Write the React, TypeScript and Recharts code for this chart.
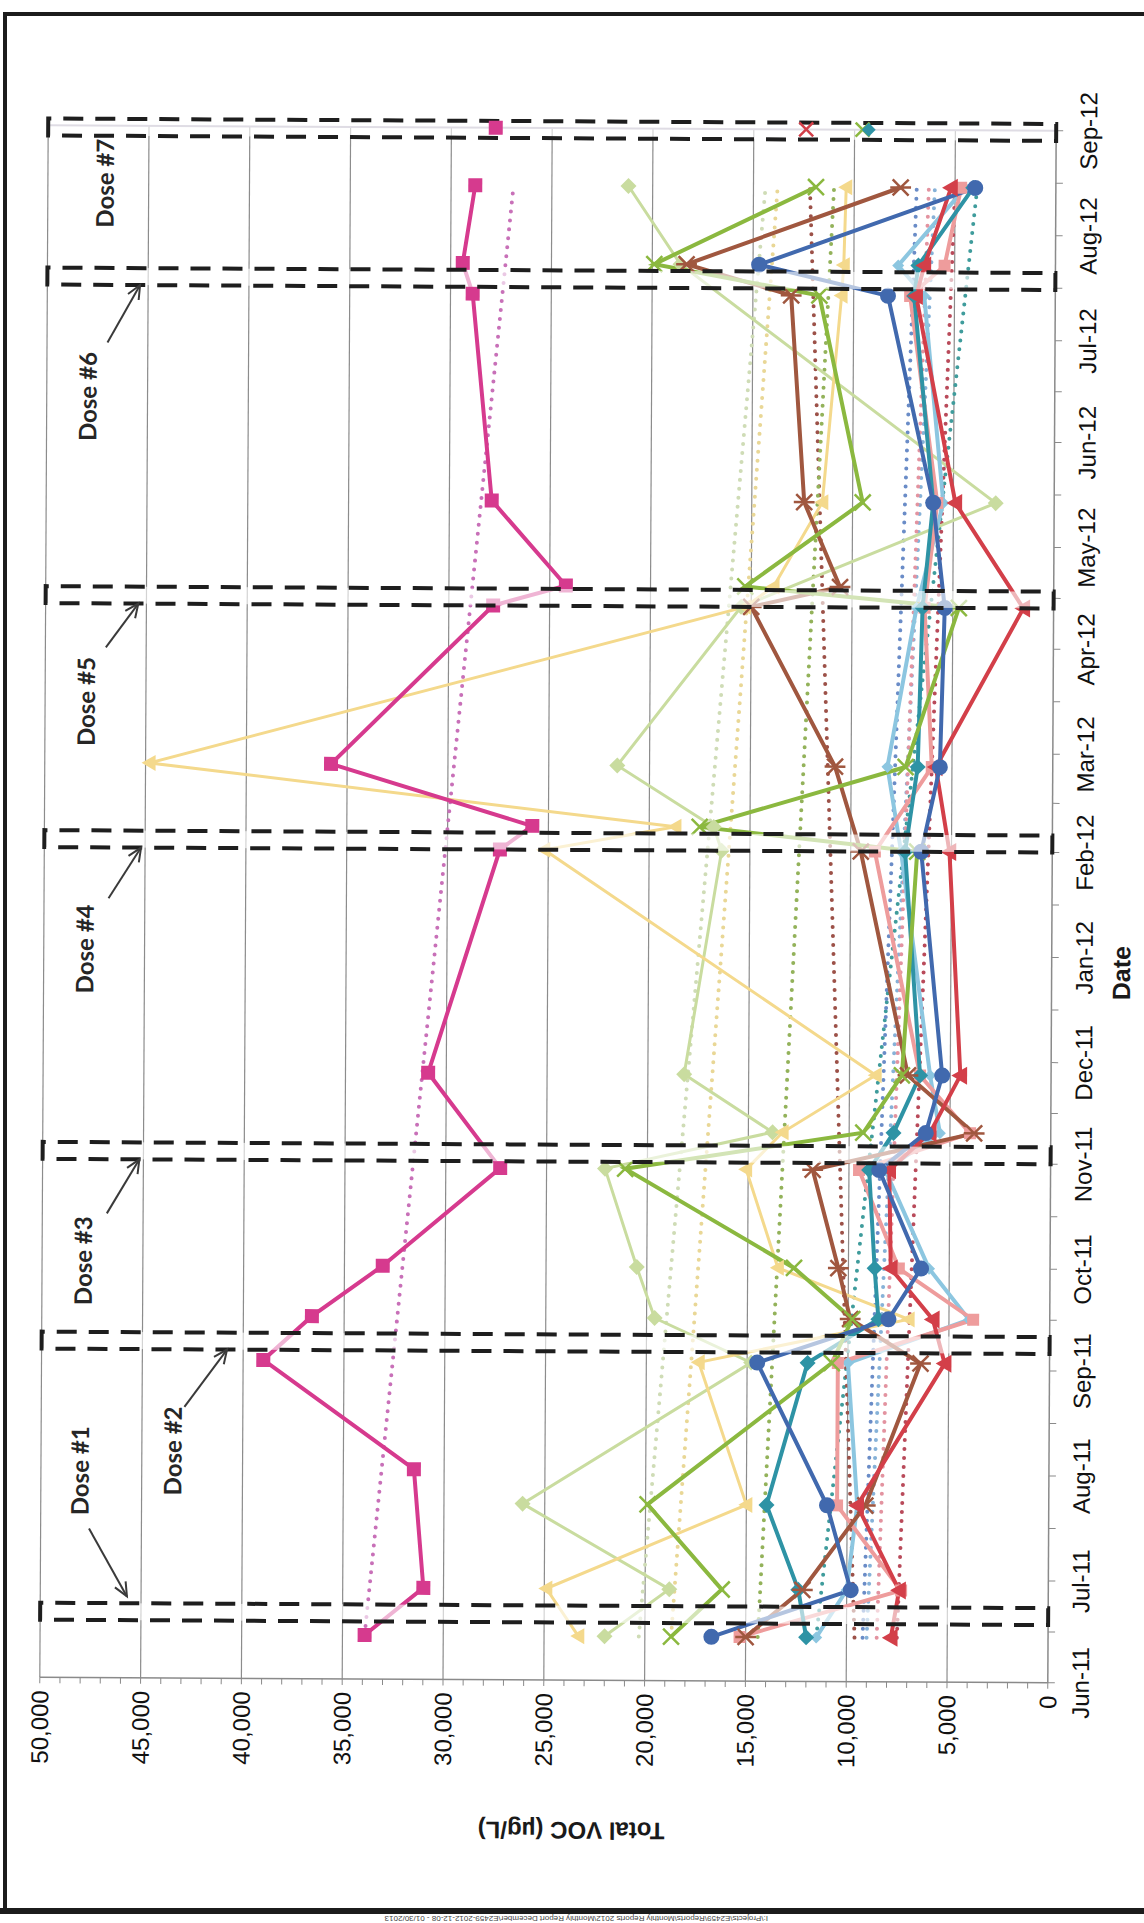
import React from "react";
import {
  LineChart,
  Line,
  XAxis,
  YAxis,
  ReferenceLine,
  ReferenceArea,
  ReferenceDot,
} from "recharts";

// sampling events
const sampleDates = [
  "2011-06-14", "2011-06-28", "2011-07-23", "2011-08-02", "2011-09-03",
  "2011-09-16", "2011-10-01", "2011-10-30", "2011-11-10", "2011-11-27",
  "2012-02-01", "2012-02-08", "2012-02-26", "2012-04-13", "2012-04-19",
  "2012-05-14", "2012-07-14", "2012-07-23", "2012-08-15",
];

// Total VOC (ug/L) per well, null = not sampled
const magenta = [33900, 31000, null, 31500, 39000, 36600, 33100, 27300, null, 30900, 27400, 25800, 35800, 27800, 24200, 27900, 28900, 29400, 28800];
const blue = [16700, 9800, 11000, null, 14500, 8000, 6400, 8500, 6200, 5400, 6500, null, 5600, 5400, null, 6000, 8300, 14700, 4000];
const red = [7800, 7400, 9500, null, 5200, 5800, 7900, 8000, 6000, 4500, 5100, null, 5800, 1500, null, 4900, 6900, 6500, 5200];
const green = [18700, 16200, 19900, null, 10800, 9800, 12700, 21100, 9300, 7400, 6700, 17500, 7300, 4700, 15300, 9500, 11700, 19900, 11900];
const brown = [15000, 12200, 9100, null, 6400, 9900, 10500, 11800, 3800, 7100, 9500, null, 10800, 15000, 10600, 12400, 13100, 18300, 7700];
const teal = [12000, 12400, 14000, null, 12000, 8500, 8700, 9000, 7800, 6500, 7300, null, 6700, 6500, null, 6000, 7000, 6800, 4100];
const yellow = [23300, 24900, 15000, null, 17400, 7000, 13500, 15100, 13300, 8700, 25200, 18700, 44800, 15300, 13900, 11500, 10600, 10500, 10400];
const paleGreen = [22000, 18800, 26100, null, 14800, 19600, 20500, 22100, 13800, 18200, 16400, 16800, 21600, 15500, null, 2900, null, 18600, 21200];
const lightBlue = [11500, 10000, 9500, null, 10000, 4000, 6000, 8200, 5500, 6000, 7500, null, 8200, 6800, null, 5500, 6500, 7800, 4500];
const salmon = [15300, 7300, 10500, null, 10500, 3800, 7500, 9500, 4000, 6500, 8800, null, 6000, 6400, null, 5800, 7200, 5500, 4700];

// linear trendlines (first -> last sampling date)
const trendSpan = ["2011-06-14", "2012-08-15"];
const magentaTrend = [33900, 26900];
const blueTrend = [9200, 6900];
const redTrend = [7500, 5000];
const greenTrend = [14400, 11000];
const brownTrend = [9600, 12200];
const tealTrend = [11500, 3900];
const yellowTrend = [18700, 13800];
const paleGreenTrend = [20300, 14400];
const lightBlueTrend = [9000, 6000];
const salmonTrend = [8500, 6300];

// lone points sitting on the Sep-12 border
const strayDate = "2012-09-01";
const strayMagenta = 27800;
const strayRed = 12400;
const strayGreen = 9600;
const strayTeal = 9300;

const monthStarts = [
  "2011-06-01", "2011-07-01", "2011-08-01", "2011-09-01", "2011-10-01", "2011-11-01",
  "2011-12-01", "2012-01-01", "2012-02-01", "2012-03-01", "2012-04-01", "2012-05-01",
  "2012-06-01", "2012-07-01", "2012-08-01", "2012-09-01",
];
const monthLabels = [
  "Jun-11", "Jul-11", "Aug-11", "Sep-11", "Oct-11", "Nov-11", "Dec-11", "Jan-12",
  "Feb-12", "Mar-12", "Apr-12", "May-12", "Jun-12", "Jul-12", "Aug-12", "Sep-12",
];
const gridValues = [5000, 10000, 15000, 20000, 25000, 30000, 35000, 40000, 45000, 50000];

// dosing windows + annotations
const doseNames = ["Dose #1", "Dose #2", "Dose #3", "Dose #4", "Dose #5", "Dose #6", "Dose #7"];
const doseStart = ["2011-06-18", "2011-09-06", "2011-11-01", "2012-02-01", "2012-04-13", "2012-07-16", "2012-08-29"];
const doseEnd = ["2011-06-23", "2011-09-11", "2011-11-06", "2012-02-06", "2012-04-18", "2012-07-21", "2012-09-03"];
const doseLabelDate = ["2011-08-01", "2011-08-07", "2011-10-02", "2012-01-02", "2012-03-15", "2012-06-13", "2012-08-15"];
const doseLabelValue = [48100, 43500, 48000, 48000, 48000, 48000, 47200];
const arrowFromDate = ["2011-07-15", "2011-08-20", "2011-10-16", "2012-01-17", "2012-03-31", "2012-06-29"];
const arrowFromValue = [47600, 42900, 46800, 46800, 47000, 47000];
const arrowToDate = ["2011-06-25", "2011-09-06", "2011-11-01", "2012-02-01", "2012-04-13", "2012-07-16"];
const arrowToValue = [45700, 40800, 45200, 45200, 45400, 45400];

const toTime = (s: string) => {
  const [y, m, d] = s.split("-").map(Number);
  return Date.UTC(y, m - 1, d);
};

type Shape = "square" | "circle" | "triangle" | "diamond" | "x" | "star";

const series: {
  key: string;
  values: (number | null)[];
  color: string;
  width: number;
  shape: Shape;
  size: number;
  trend: number[];
  trendColor: string;
}[] = [
  { key: "paleGreen", values: paleGreen, color: "#c9dc9f", width: 3, shape: "diamond", size: 8, trend: paleGreenTrend, trendColor: "#cfdcb6" },
  { key: "yellow", values: yellow, color: "#f4d98c", width: 3, shape: "triangle", size: 8, trend: yellowTrend, trendColor: "#e9d796" },
  { key: "lightBlue", values: lightBlue, color: "#8cc6e0", width: 4, shape: "diamond", size: 6, trend: lightBlueTrend, trendColor: "#86b2d8" },
  { key: "salmon", values: salmon, color: "#ee9c9c", width: 4, shape: "square", size: 6, trend: salmonTrend, trendColor: "#e393a0" },
  { key: "teal", values: teal, color: "#2e93a5", width: 4, shape: "diamond", size: 8, trend: tealTrend, trendColor: "#3f9c9c" },
  { key: "brown", values: brown, color: "#a0573f", width: 4, shape: "star", size: 8, trend: brownTrend, trendColor: "#9c5148" },
  { key: "green", values: green, color: "#8bb83f", width: 4, shape: "x", size: 8, trend: greenTrend, trendColor: "#93b25a" },
  { key: "red", values: red, color: "#d33f49", width: 4, shape: "triangle", size: 9, trend: redTrend, trendColor: "#b94a5a" },
  { key: "blue", values: blue, color: "#4169ae", width: 4, shape: "circle", size: 8, trend: blueTrend, trendColor: "#6a8cc7" },
  { key: "magenta", values: magenta, color: "#d63a8e", width: 4, shape: "square", size: 7, trend: magentaTrend, trendColor: "#c870b8" },
];

const strays = [
  { key: "sMagenta", value: strayMagenta, color: "#d63a8e", shape: "square" as Shape },
  { key: "sRed", value: strayRed, color: "#d33f49", shape: "x" as Shape },
  { key: "sGreen", value: strayGreen, color: "#8bb83f", shape: "x" as Shape },
  { key: "sTeal", value: strayTeal, color: "#2e93a5", shape: "diamond" as Shape },
];

const rows = sampleDates.map((s, i) => {
  const row: Record<string, number | null> = { t: toTime(s) };
  series.forEach((se) => {
    row[se.key] = se.values[i];
  });
  return row;
});

const tStart = toTime(monthStarts[0]);
const tEnd = toTime(monthStarts[monthStarts.length - 1]);
const monthTimes = monthStarts.map(toTime);
const xTicks: number[] = [];
monthTimes.forEach((t, i) => {
  xTicks.push(t);
  if (i < monthTimes.length - 1) xTicks.push((t + monthTimes[i + 1]) / 2);
});
const labelByTime = new Map(monthTimes.map((t, i) => [t, monthLabels[i]]));
const yTicks = Array.from({ length: 51 }, (_, i) => i * 1000);

function drawMarker(shape: Shape, color: string, s: number, cx: number, cy: number, k: string) {
  switch (shape) {
    case "square":
      return <rect key={k} x={cx - s} y={cy - s} width={2 * s} height={2 * s} fill={color} />;
    case "circle":
      return <circle key={k} cx={cx} cy={cy} r={s} fill={color} />;
    case "triangle":
      return (
        <polygon
          key={k}
          points={`${cx},${cy - s} ${cx + s},${cy + s * 0.75} ${cx - s},${cy + s * 0.75}`}
          fill={color}
        />
      );
    case "diamond":
      return (
        <polygon
          key={k}
          points={`${cx},${cy - s} ${cx + s},${cy} ${cx},${cy + s} ${cx - s},${cy}`}
          fill={color}
        />
      );
    case "x":
      return (
        <path
          key={k}
          d={`M${cx - s},${cy - s}L${cx + s},${cy + s}M${cx + s},${cy - s}L${cx - s},${cy + s}`}
          stroke={color}
          strokeWidth={2.5}
        />
      );
    default:
      return (
        <path
          key={k}
          d={`M${cx - s},${cy - s}L${cx + s},${cy + s}M${cx + s},${cy - s}L${cx - s},${cy + s}M${cx},${cy - s * 1.3}L${cx},${cy + s * 1.3}`}
          stroke={color}
          strokeWidth={2.5}
        />
      );
  }
}

function marker(shape: Shape, color: string, s: number) {
  return (p: any) => {
    const { cx, cy, index } = p;
    const k = `m-${index}`;
    if (cx == null || cy == null || p.value == null) return <g key={k} />;
    return drawMarker(shape, color, s, cx, cy, k);
  };
}

const arrowShape = (p: any) => {
  const { x1, y1, x2, y2 } = p;
  const a = Math.atan2(y2 - y1, x2 - x1);
  const h = 15;
  const w = 0.42;
  const ax = x2 - h * Math.cos(a - w);
  const ay = y2 - h * Math.sin(a - w);
  const bx = x2 - h * Math.cos(a + w);
  const by = y2 - h * Math.sin(a + w);
  return (
    <g>
      <line x1={x1} y1={y1} x2={x2} y2={y2} stroke="#3a3a3a" strokeWidth={2} />
      <polyline
        points={`${ax},${ay} ${x2},${y2} ${bx},${by}`}
        fill="none"
        stroke="#3a3a3a"
        strokeWidth={2}
      />
    </g>
  );
};

const doseText = (name: string) => (p: any) => (
  <text
    x={p.cx}
    y={p.cy}
    textAnchor="middle"
    dominantBaseline="central"
    fontFamily="Lato, 'Open Sans', sans-serif"
    fontWeight={700}
    fontSize={24}
    fill="#262626"
  >
    {name}
  </text>
);

function VocChart() {
  return (
    <LineChart
      width={1923}
      height={1144}
      data={rows}
      margin={{ top: 44, right: 128, bottom: 62, left: 183 }}
      style={{ fontFamily: "'Liberation Sans', Arial, sans-serif" }}
    >
      <XAxis
        dataKey="t"
        type="number"
        domain={[tStart, tEnd]}
        allowDataOverflow
        ticks={xTicks}
        interval={0}
        tickFormatter={(t: number) => labelByTime.get(t) ?? ""}
        tick={{ fontSize: 24, fill: "#111" }}
        tickSize={7}
        tickMargin={17}
        height={30}
        axisLine={{ stroke: "#8a8a8a", strokeWidth: 1.5 }}
        tickLine={{ stroke: "#8a8a8a" }}
      />
      <YAxis
        type="number"
        domain={[0, 50000]}
        allowDataOverflow
        ticks={yTicks}
        interval={0}
        tickFormatter={(v: number) => (v % 5000 === 0 ? v.toLocaleString("en-US") : "")}
        tick={{ fontSize: 24, fill: "#111" }}
        tickSize={6}
        tickMargin={7}
        width={60}
        axisLine={{ stroke: "#8a8a8a", strokeWidth: 1.5 }}
        tickLine={{ stroke: "#8a8a8a" }}
      />

      {gridValues.map((v) => (
        <ReferenceLine key={`g${v}`} y={v} stroke="#8c8c8c" strokeWidth={1.2} />
      ))}
      <ReferenceLine x={tEnd} stroke="#aaa3b8" strokeWidth={2} />

      {series.map((se) => (
        <Line
          key={`${se.key}-trend`}
          data={[
            { t: toTime(trendSpan[0]), v: se.trend[0] },
            { t: toTime(trendSpan[1]), v: se.trend[1] },
          ]}
          dataKey="v"
          stroke={se.trendColor}
          strokeWidth={4}
          strokeDasharray="0 9"
          strokeLinecap="round"
          dot={false}
          activeDot={false}
          isAnimationActive={false}
        />
      ))}

      {series.map((se) => (
        <Line
          key={se.key}
          dataKey={se.key}
          type="linear"
          stroke={se.color}
          strokeWidth={se.width}
          connectNulls
          dot={marker(se.shape, se.color, se.size)}
          activeDot={false}
          isAnimationActive={false}
        />
      ))}

      {doseStart.map((s, i) => (
        <ReferenceArea
          key={`dose-${i}`}
          x1={toTime(s)}
          x2={toTime(doseEnd[i])}
          y1={0}
          y2={50000}
          ifOverflow="visible"
          fill="#ffffff"
          fillOpacity={0.62}
          stroke="#1e1e1e"
          strokeWidth={4}
          strokeDasharray="20 12"
          zIndex={700}
        />
      ))}

      {strays.map((st) => (
        <ReferenceDot
          key={st.key}
          x={toTime(strayDate)}
          y={st.value}
          r={7}
          ifOverflow="visible"
          shape={(p: any) => drawMarker(st.shape, st.color, 7, p.cx, p.cy, st.key)}
          zIndex={750}
        />
      ))}

      {arrowFromDate.map((s, i) => (
        <ReferenceLine
          key={`arrow-${i}`}
          segment={[
            { x: toTime(s), y: arrowFromValue[i] },
            { x: toTime(arrowToDate[i]), y: arrowToValue[i] },
          ]}
          shape={arrowShape}
          zIndex={800}
        />
      ))}

      {doseNames.map((n, i) => (
        <ReferenceDot
          key={`lbl-${i}`}
          x={toTime(doseLabelDate[i])}
          y={doseLabelValue[i]}
          r={1}
          shape={doseText(n)}
          zIndex={800}
        />
      ))}
    </LineChart>
  );
}

export default function App() {
  return (
    <div
      style={{
        position: "absolute",
        left: 0,
        top: 0,
        width: 1144,
        height: 1923,
        overflow: "hidden",
        background: "#fff",
      }}
    >
      {/* scanned page frame */}
      <div style={{ position: "absolute", left: 4, top: 12, width: 1140, height: 4, background: "#1c1c1c" }} />
      <div style={{ position: "absolute", left: 3, top: 12, width: 4, height: 1898, background: "#1c1c1c" }} />
      <div style={{ position: "absolute", left: 0, top: 1908, width: 1144, height: 6, background: "#1c1c1c" }} />
      <div
        style={{
          position: "absolute",
          left: 8,
          top: 1914,
          width: 760,
          fontFamily: "'Liberation Sans', Arial, sans-serif",
          fontSize: 8,
          color: "#444",
          whiteSpace: "nowrap",
          transform: "rotate(180deg)",
        }}
      >
        I:\Projects\E2459\Reports\Monthly Reports 2012\Monthly Report December\E2459-2012-12-08 - 01/30/2013
      </div>

      {/* slight scan skew */}
      <div
        style={{
          position: "absolute",
          left: 0,
          top: 0,
          width: 1144,
          height: 1923,
          transformOrigin: "548px 904px",
          transform: "rotate(0.31deg)",
        }}
      >
        {/* chart laid on its side */}
        <div
          style={{
            position: "absolute",
            left: 0,
            top: 0,
            width: 1923,
            height: 1144,
            transformOrigin: "0 0",
            transform: "translateY(1923px) rotate(-90deg)",
          }}
        >
          <VocChart />
          <div
            style={{
              position: "absolute",
              left: 93,
              top: 576,
              transform: "translate(-50%, -50%) rotate(-90deg)",
              fontFamily: "'Liberation Sans', Arial, sans-serif",
              fontWeight: 700,
              fontSize: 24,
              whiteSpace: "nowrap",
              color: "#1a1a1a",
            }}
          >
            Total VOC (µg/L)
          </div>
          <div
            style={{
              position: "absolute",
              left: 953,
              top: 1122,
              transform: "translate(-50%, -50%)",
              fontFamily: "'Liberation Sans', Arial, sans-serif",
              fontWeight: 700,
              fontSize: 25,
              whiteSpace: "nowrap",
              color: "#1a1a1a",
            }}
          >
            Date
          </div>
        </div>
      </div>
    </div>
  );
}
